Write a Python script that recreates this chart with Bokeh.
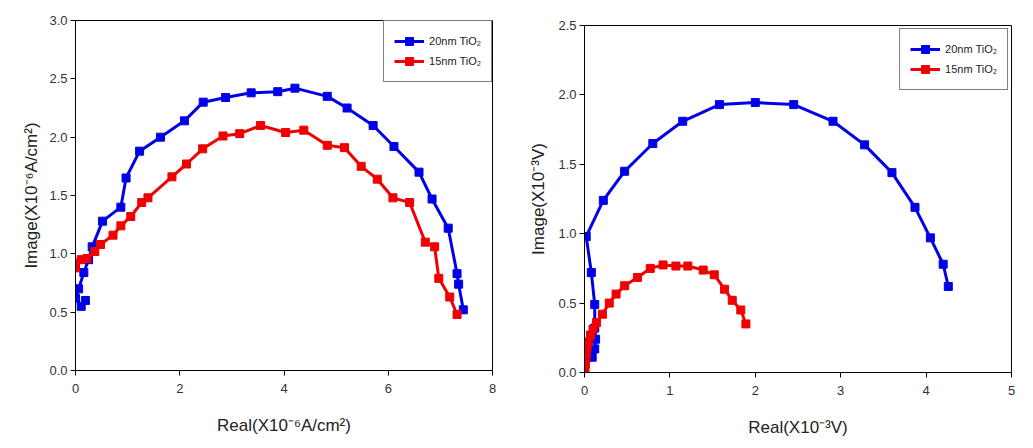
from bokeh.plotting import figure
from bokeh.layouts import row, column
from bokeh.models import Range1d, FixedTicker, PrintfTickFormatter, Legend, LegendItem
from bokeh.embed import file_html
from bokeh.resources import INLINE

# ---- Left chart: current density (X10^-6 A/cm^2)
left_x_20nm = [0.19, 0.11, 0.00, 0.06, 0.16, 0.25, 0.32, 0.52, 0.87, 0.97, 1.23, 1.63, 2.09,
               2.45, 2.88, 3.37, 3.88, 4.21, 4.83, 5.21, 5.71, 6.11, 6.59, 6.84, 7.15,
               7.32, 7.35, 7.44]
left_y_20nm = [0.60, 0.55, 0.62, 0.70, 0.84, 0.95, 1.06, 1.28, 1.40, 1.65, 1.88, 2.00, 2.14,
               2.30, 2.34, 2.38, 2.39, 2.42, 2.35, 2.25, 2.10, 1.92, 1.70, 1.47, 1.22,
               0.83, 0.74, 0.52]
left_x_15nm = [0.00, 0.00, 0.11, 0.22, 0.37, 0.48, 0.72, 0.87, 1.06, 1.27, 1.39, 1.85, 2.13,
               2.44, 2.83, 3.15, 3.55, 4.03, 4.38, 4.83, 5.16, 5.48, 5.79, 6.09, 6.41,
               6.71, 6.89, 6.97, 7.18, 7.32]
left_y_15nm = [0.88, 0.92, 0.95, 0.96, 1.02, 1.08, 1.16, 1.24, 1.32, 1.44, 1.48, 1.66, 1.77,
               1.90, 2.01, 2.03, 2.10, 2.04, 2.06, 1.93, 1.91, 1.75, 1.64, 1.48, 1.44,
               1.10, 1.06, 0.79, 0.63, 0.48]

# ---- Right chart: voltage (X10^-3 V)
right_x_20nm = [0.00, 0.09, 0.12, 0.13, 0.12, 0.12, 0.08, 0.02, 0.22, 0.47, 0.80, 1.15, 1.58,
                2.00, 2.45, 2.91, 3.28, 3.60, 3.87, 4.05, 4.20, 4.26]
right_y_20nm = [0.04, 0.11, 0.17, 0.24, 0.32, 0.49, 0.72, 0.98, 1.24, 1.45, 1.65, 1.81, 1.93,
                1.945, 1.93, 1.81, 1.64, 1.44, 1.19, 0.97, 0.78, 0.62]
right_x_15nm = [0.00, 0.005, 0.01, 0.015, 0.02, 0.03, 0.045, 0.07, 0.10, 0.14, 0.21, 0.29, 0.37,
                0.47, 0.62, 0.77, 0.92, 1.07, 1.21, 1.39, 1.52, 1.64, 1.73, 1.83, 1.89]
right_y_15nm = [0.00, 0.03, 0.06, 0.10, 0.14, 0.18, 0.22, 0.27, 0.31, 0.36, 0.42, 0.50, 0.565,
                0.625, 0.685, 0.75, 0.775, 0.767, 0.767, 0.738, 0.704, 0.60, 0.52, 0.45, 0.35]

series_names = ["20nm TiO\u2082", "15nm TiO\u2082"]
left_xticks = [0, 2, 4, 6, 8]
left_yticks = [0.0, 0.5, 1.0, 1.5, 2.0, 2.5, 3.0]
right_xticks = [0, 1, 2, 3, 4, 5]
right_yticks = [0.0, 0.5, 1.0, 1.5, 2.0, 2.5]

BLUE = "#0000e8"
RED = "#f00000"
FONT = "Liberation Sans"


def make_fig(xr, yr, xticks, yticks, xlabel, ylabel, data, borders, frame, legend_margin,
             ylab_standoff, legend_pad):
    bl, br, bt, bb = borders
    fw, fh = frame
    p = figure(output_backend="svg", toolbar_location=None,
               frame_width=fw, frame_height=fh,
               min_border_left=bl, min_border_right=br,
               min_border_top=bt, min_border_bottom=bb,
               x_range=Range1d(*xr), y_range=Range1d(*yr))
    p.background_fill_color = "white"
    p.border_fill_color = "white"
    p.outline_line_color = "black"
    p.outline_line_width = 1
    p.xgrid.visible = False
    p.ygrid.visible = False

    for ax, ticks in ((p.xaxis, xticks), (p.yaxis, yticks)):
        ax.ticker = FixedTicker(ticks=ticks)
        ax.minor_tick_line_color = None
        ax.major_tick_out = 5
        ax.major_tick_in = 0
        ax.axis_line_color = "black"
        ax.major_tick_line_color = "black"
        ax.major_label_text_font = FONT
        ax.major_label_text_font_size = "13px"
        ax.major_label_text_color = "#333333"
        ax.axis_label_text_font = FONT
        ax.axis_label_text_font_size = "17px"
        ax.axis_label_text_font_style = "normal"
        ax.axis_label_text_color = "#222222"
    p.xaxis.formatter = PrintfTickFormatter(format="%d")
    p.yaxis.formatter = PrintfTickFormatter(format="%.1f")
    p.xaxis.axis_label = xlabel
    p.yaxis.axis_label = ylabel
    p.xaxis.major_label_standoff = 8
    p.xaxis.axis_label_standoff = 20
    p.yaxis.major_label_standoff = 3
    p.yaxis.axis_label_standoff = ylab_standoff

    items = []
    for (xs, ys, color), name in zip(data, series_names):
        l = p.line(xs, ys, line_color=color, line_width=3)
        s = p.scatter(xs, ys, marker="square", size=8, fill_color=color, line_color=color)
        items.append(LegendItem(label=name, renderers=[l, s]))
    leg = Legend(items=items, location="top_right")
    leg.margin = legend_margin
    leg.padding = legend_pad
    leg.spacing = 0
    leg.glyph_width = 30
    leg.glyph_height = 20
    leg.label_height = 20
    leg.label_standoff = 5
    leg.label_text_font = FONT
    leg.label_text_font_size = "11px"
    leg.label_text_color = "#222222"
    leg.border_line_color = "black"
    leg.border_line_width = 1
    leg.background_fill_color = "white"
    p.add_layout(leg, "center")
    return p


p1 = make_fig((0, 8), (0, 3), left_xticks, left_yticks,
              "Real(X10\u207b\u2076A/cm\u00b2)", "Image(X10\u207b\u2076A/cm\u00b2)",
              [(left_x_20nm, left_y_20nm, BLUE), (left_x_15nm, left_y_15nm, RED)],
              (75, 20, 20, 74), (417, 350), 0, 5, 10)
p2 = make_fig((0, 5), (0, 2.5), right_xticks, right_yticks,
              "Real(X10\u207b\u00b3V)", "Image(X10\u207b\u00b3V)",
              [(right_x_20nm, right_y_20nm, BLUE), (right_x_15nm, right_y_15nm, RED)],
              (72, 14, 25, 72), (427, 347), 3, 7, 10)

layout = row(column(p1), column(p2))
open("out.html", "w").write(file_html(layout, INLINE))
